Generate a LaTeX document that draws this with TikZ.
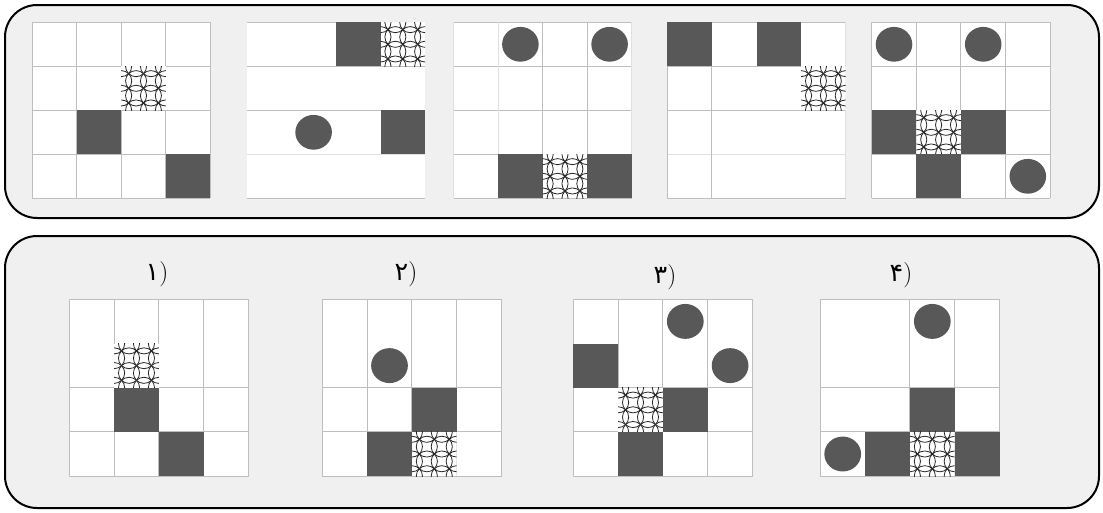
\documentclass[tikz,border=0pt]{standalone}
\usepackage{fontspec}
\newfontfamily\pdig[Script=Arabic]{DejaVu Sans}
\definecolor{panel}{RGB}{240,240,240}
\definecolor{gline}{RGB}{190,190,190}
\definecolor{faintline}{RGB}{224,224,224}
\definecolor{darkfill}{RGB}{88,88,88}
\newcommand\sqr[2]{\fill[darkfill] (#1,#2) rectangle ++(1,1);}
\newcommand\disc[2]{\fill[darkfill] (#1+0.5,#2+0.5) ellipse[x radius=0.41,y radius=0.395];}
\newcommand\hatchcell[2]{%
  \begin{scope}
    \clip (#1,#2) rectangle ++(1,1);
    \fill[white] (#1,#2) rectangle ++(1,1);
    \foreach \i in {0,...,3}{\foreach \j in {0,...,3}{%
      \draw[hatchline] ({#1+\i/3},{#2+\j/3}) circle[radius=0.2357];}}
  \end{scope}}
\newcommand\hl[2][gl]{\draw[#1] (0,#2) -- (4,#2);}
\newcommand\vl[2][gl]{\draw[#1] (#2,0) -- (#2,4);}
\begin{document}
\begin{tikzpicture}[x=0.75pt,y=-0.75pt,
  panelbox/.style={draw=black,line width=1.5pt,fill=panel,rounded corners=24pt},
  gl/.style={draw=gline,line width=0.75pt},
  fl/.style={draw=faintline,line width=0.75pt},
  hatchline/.style={draw=black!85,line width=0.6pt},
  topgrid/.style={x=33.45pt,y=-33pt},
  botgrid/.style={x=33.6pt,y=-33.15pt},
  lbl/.style={font=\fontsize{19}{20}\selectfont,inner sep=0pt}]
\useasboundingbox (0,0) rectangle (1103,512);
\fill[white] (0,0) rectangle (1103,512);
\draw[panelbox] (5,5) rectangle (1099,218);
\draw[panelbox] (5,236) rectangle (1099,508);

% ---------- top row ----------
\begin{scope}[shift={(32,22.3)},topgrid]
  \fill[white] (0,0) rectangle (4,4);
  \foreach \k in {0,...,4}{\hl{\k}\vl{\k}}
  \hatchcell{2}{1}\sqr{1}{2}\sqr{3}{3}
\end{scope}
\begin{scope}[shift={(246.7,22.3)},topgrid]
  \fill[white] (0,0) rectangle (4,4);
  \hl{0}\hl{1}\hl{2}\hl[fl]{3}\hl{4}
  \sqr{2}{0}\hatchcell{3}{0}\disc{1}{2}\sqr{3}{2}
\end{scope}
\begin{scope}[shift={(453.5,22.3)},topgrid]
  \fill[white] (0,0) rectangle (4,4);
  \foreach \k in {0,...,4}{\hl{\k}}
  \vl[fl]{0}\vl[fl]{1}\vl{2}\vl{3}\vl[fl]{4}
  \disc{1}{0}\disc{3}{0}\sqr{1}{3}\hatchcell{2}{3}\sqr{3}{3}
\end{scope}
\begin{scope}[shift={(667.3,22.3)},topgrid]
  \fill[white] (0,0) rectangle (4,4);
  \hl{0}\hl{1}\hl{2}\hl[fl]{3}\hl{4}
  \vl{0}\vl{1}\vl[fl]{4}
  \sqr{0}{0}\sqr{2}{0}\hatchcell{3}{1}
\end{scope}
\begin{scope}[shift={(871.7,22.3)},topgrid]
  \fill[white] (0,0) rectangle (4,4);
  \foreach \k in {0,...,4}{\hl{\k}\vl{\k}}
  \disc{0}{0}\disc{2}{0}\sqr{0}{2}\hatchcell{1}{2}\sqr{2}{2}\sqr{1}{3}\disc{3}{3}
\end{scope}

% ---------- bottom row ----------
\begin{scope}[shift={(69.3,299.3)},botgrid]
  \fill[white] (0,0) rectangle (4,4);
  \foreach \k in {0,...,4}{\vl{\k}}
  \hl{0}\hl{2}\hl{3}\hl{4}
  \hatchcell{1}{1}\sqr{1}{2}\sqr{2}{3}
\end{scope}
\begin{scope}[shift={(322.3,299.3)},botgrid]
  \fill[white] (0,0) rectangle (4,4);
  \foreach \k in {0,...,4}{\vl{\k}}
  \hl{0}\hl{2}\hl{3}\hl{4}
  \disc{1}{1}\sqr{2}{2}\sqr{1}{3}\hatchcell{2}{3}
\end{scope}
\begin{scope}[shift={(573.3,299.3)},botgrid]
  \fill[white] (0,0) rectangle (4,4);
  \foreach \k in {0,...,4}{\vl{\k}}
  \hl{0}\hl{2}\hl{3}\hl{4}
  \disc{2}{0}\sqr{0}{1}\disc{3}{1}\hatchcell{1}{2}\sqr{2}{2}\sqr{1}{3}
\end{scope}
\begin{scope}[shift={(820.3,299.3)},botgrid]
  \fill[white] (0,0) rectangle (4,4);
  \vl{0}\vl{2}\vl{3}\vl{4}\draw[gl] (1,3) -- (1,4);
  \hl{0}\hl{2}\hl{3}\hl{4}
  \disc{2}{0}\sqr{2}{2}\disc{0}{3}\sqr{1}{3}\hatchcell{2}{3}\sqr{3}{3}
\end{scope}

% ---------- labels ----------
\node[lbl] (lab1) at (157,274) {{\pdig ۱})};
\node[lbl] (lab2) at (406,274) {{\pdig ۲})};
\node[lbl] (lab3) at (665,277) {{\pdig ۳})};
\node[lbl] (lab4) at (901,275) {{\pdig ۴})};
\end{tikzpicture}
\end{document}
